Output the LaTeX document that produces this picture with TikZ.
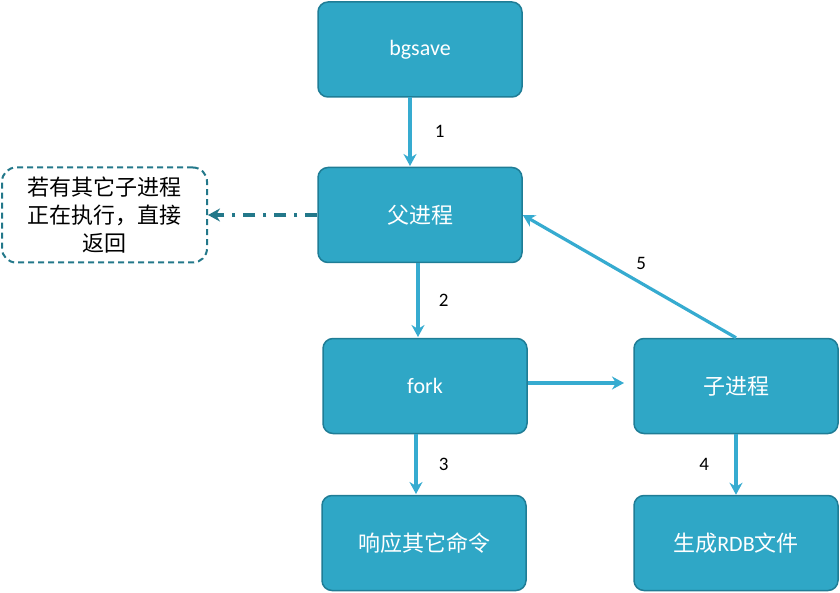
\documentclass[tikz,border=0pt]{standalone}
\usepackage{fontspec}
\setmainfont{Carlito}
\newfontfamily\cjk{Noto Sans CJK SC}
\usetikzlibrary{arrows.meta}
\definecolor{boxfill}{HTML}{2FA7C6}
\definecolor{boxline}{HTML}{1F7D96}
\definecolor{arrowc}{HTML}{36ABD0}
\definecolor{dashc}{HTML}{23788A}
\tikzset{
  stepbox/.style={draw=boxline,line width=1.5pt,fill=boxfill,rounded corners=10pt,
    minimum width=204pt,minimum height=95pt,text=white,font=\fontsize{22}{26}\selectfont\cjk},
  flow/.style={draw=arrowc,line width=3.2pt,-{Stealth[length=12pt,width=13pt]}},
  num/.style={font=\fontsize{19}{22}\selectfont}
}
\begin{document}
\begin{tikzpicture}[x=1pt,y=-1pt]
  \useasboundingbox (0,0) rectangle (840,593);
  \node[stepbox] (bgsave) at (420,49.5) {\rmfamily bgsave};
  \node[stepbox] (parent) at (420,215) {父进程};
  \node[stepbox] (fork) at (425,386) {\rmfamily fork};
  \node[stepbox] (child) at (736,386) {子进程};
  \node[stepbox] (reply) at (424,543) {响应其它命令};
  \node[stepbox] (rdb) at (736,543) {生成\rmfamily RDB\cjk 文件};
  \node[draw=dashc,line width=2pt,dash pattern=on 6pt off 4pt,rounded corners=14pt,
    minimum width=205pt,minimum height=95pt,align=center,
    font=\fontsize{22}{28}\selectfont\cjk] (note) at (104.5,215) {若有其它子进程\\正在执行，直接\\返回};
  % arrows
  \draw[flow] (410,97) -- (410,166) node[num,midway,right=20pt,text=black] {1};
  \draw[flow] (418,263) -- (418,337) node[num,midway,right=16pt,text=black] {2};
  \draw[flow] (416,434) -- (416,494) node[num,midway,right=18pt,text=black] {3};
  \draw[flow] (fork.east |- 0,383) -- (624,383);
  \draw[flow] (child) -- (rdb) node[num,midway,left=22pt,text=black] {4};
  \draw[flow] (child.north) -- (parent.east) node[num,midway,above right=2pt,text=black] {5};
  \draw[draw=dashc,line width=3.2pt,dash pattern=on 12pt off 8pt on 3pt off 8pt,
    -{Stealth[length=12pt,width=13pt]}] (parent.west) -- (note.east);
\end{tikzpicture}
\end{document}
